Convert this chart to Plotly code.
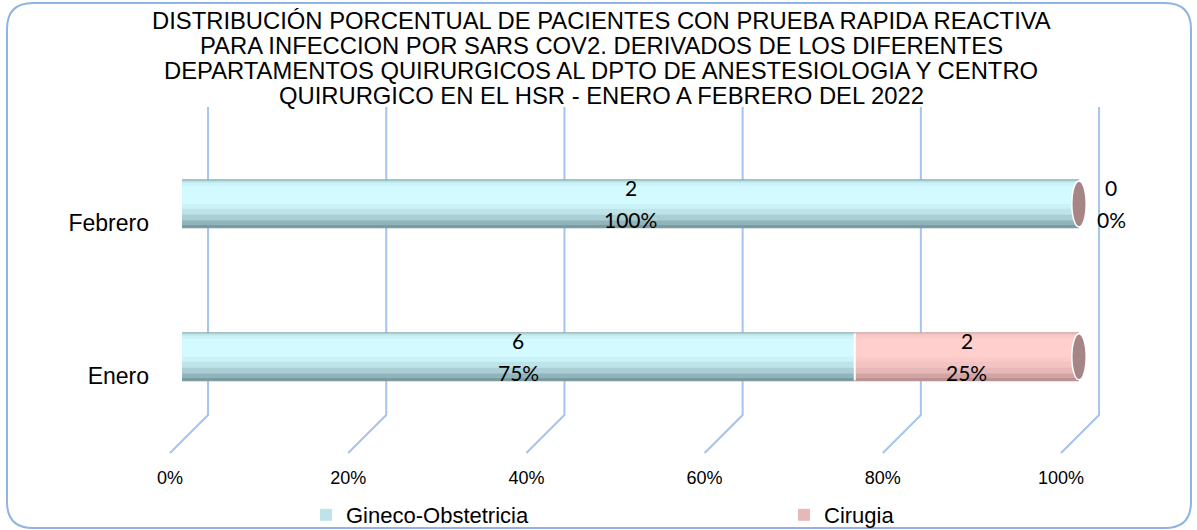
import plotly.graph_objects as go

# ---------------- data ----------------
categories = ["Enero", "Febrero"]
series_names = ["Gineco-Obstetricia", "Cirugia"]
counts_gineco = [6, 2]
counts_cirugia = [2, 0]
pct_gineco = [75, 100]
pct_cirugia = [25, 0]
x_ticks = [0, 20, 40, 60, 80, 100]
x_tick_labels = ["0%", "20%", "40%", "60%", "80%", "100%"]
title_lines = [
    "DISTRIBUCIÓN PORCENTUAL DE PACIENTES CON PRUEBA RAPIDA REACTIVA",
    "PARA INFECCION POR SARS COV2. DERIVADOS DE LOS DIFERENTES",
    "DEPARTAMENTOS QUIRURGICOS AL DPTO DE ANESTESIOLOGIA Y CENTRO",
    "QUIRURGICO EN EL HSR - ENERO A FEBRERO DEL 2022",
]

series_counts = [counts_gineco, counts_cirugia]
series_pct = [pct_gineco, pct_cirugia]

# ---------------- style ----------------
W, H = 1197, 530
ARIAL = "Liberation Sans, Arial, sans-serif"
LABEL_FONT = "Lato, Open Sans, sans-serif"
GRID_COLOR = "rgb(166,196,236)"
BAR_W = 0.32          # bar thickness in y units
BAR_SHIFT = 0.125     # bars sit a bit above their category label (3D look)
layers_frac = [(0.0, 1.0), (0.07, 1.0), (0.16, 0.985), (0.28, 0.965),
               (0.40, 0.935), (0.50, 0.87)]
shades = [
    ["#7A9BA0", "#90B4B9", "#A9CED3", "#BEE3E8", "#CAF3F8", "#D3FAFE"],
    ["#BD9191", "#D2A5A5", "#E6B8B7", "#F3C3C2", "#FBC9C8", "#FFCFCE"],
]
legend_layer = [3, 2]
cap_color = "#A58585"

y_pos = list(range(len(categories)))

fig = go.Figure()

# grid lines (perspective): back wall vertical + floor diagonal, on the front scale axis x
gx, gy = [], []
for v in x_ticks:
    gx += [v + 4.27, v + 4.27, v, None]
    gy += [1.758, -0.255, -0.503, None]
fig.add_trace(go.Scatter(x=gx, y=gy, mode="lines", xaxis="x", yaxis="y",
                         line=dict(color=GRID_COLOR, width=2),
                         hoverinfo="skip", showlegend=False))

# stacked bars (manual stacking with base) drawn as shaded cylinder layers on x2
bases = [0] * len(categories)
seg_bases = []
for s, name in enumerate(series_names):
    vals = series_pct[s]
    seg_bases.append(list(bases))
    for li, (f0, f1) in enumerate(layers_frac):
        fig.add_trace(go.Bar(
            x=vals, y=y_pos, base=list(bases), orientation="h",
            xaxis="x2", yaxis="y",
            width=(f1 - f0) * BAR_W,
            offset=BAR_SHIFT - BAR_W / 2 + f0 * BAR_W,
            marker=dict(color=shades[s][li], line=dict(width=0)),
            name=name, legendgroup=name,
            showlegend=(li == legend_layer[s]),
            hoverinfo="skip",
        ))
    bases = [b + v for b, v in zip(bases, vals)]

shapes = []
annotations = []

# cylinder caps at the end of each stack and separators between segments
for i in range(len(categories)):
    yc = y_pos[i] + BAR_SHIFT
    end = bases[i]
    shapes.append(dict(type="circle", xref="x2", yref="y",
                       x0=end - 0.8, x1=end + 0.8,
                       y0=yc - BAR_W * 0.47, y1=yc + BAR_W * 0.47,
                       fillcolor=cap_color, line=dict(color="white", width=1.5),
                       layer="above"))
    for s in range(1, len(series_names)):
        b = seg_bases[s][i]
        if series_pct[s][i] > 0 and series_pct[s - 1][i] > 0:
            shapes.append(dict(type="line", xref="x2", yref="y",
                               x0=b, x1=b, y0=yc - BAR_W * 0.48, y1=yc + BAR_W * 0.48,
                               line=dict(color="white", width=2), layer="above"))

# data labels (count and percentage)
for s in range(len(series_names)):
    for i in range(len(categories)):
        v = series_pct[s][i]
        b = seg_bases[s][i]
        xc = b + v / 2 if v > 0 else b + 3.6
        yc = y_pos[i] + BAR_SHIFT
        annotations.append(dict(xref="x2", yref="y", x=xc, y=yc, yshift=16,
                                text=str(series_counts[s][i]), showarrow=False,
                                font=dict(family=LABEL_FONT, size=21, color="black")))
        annotations.append(dict(xref="x2", yref="y", x=xc, y=yc, yshift=-16,
                                text=f"{v}%", showarrow=False,
                                font=dict(family=LABEL_FONT, size=21, color="black")))

# title lines
title_y = [21, 46, 71, 96]
for line, py in zip(title_lines, title_y):
    annotations.append(dict(xref="paper", yref="paper", x=601 / W, y=1 - py / H,
                            xanchor="center", yanchor="middle", text=line,
                            showarrow=False,
                            font=dict(family=ARIAL, size=23.8, color="black")))

# outer rounded border
def rr_path(x0, y0, x1, y1, r):
    fx = lambda p: p / W
    fy = lambda p: 1 - p / H
    pts = [
        f"M {fx(x0 + r)},{fy(y0)}",
        f"L {fx(x1 - r)},{fy(y0)}",
        f"Q {fx(x1)},{fy(y0)} {fx(x1)},{fy(y0 + r)}",
        f"L {fx(x1)},{fy(y1 - r)}",
        f"Q {fx(x1)},{fy(y1)} {fx(x1 - r)},{fy(y1)}",
        f"L {fx(x0 + r)},{fy(y1)}",
        f"Q {fx(x0)},{fy(y1)} {fx(x0)},{fy(y1 - r)}",
        f"L {fx(x0)},{fy(y0 + r)}",
        f"Q {fx(x0)},{fy(y0)} {fx(x0 + r)},{fy(y0)}",
        "Z",
    ]
    return " ".join(pts)

shapes.append(dict(type="path", xref="paper", yref="paper",
                   path=rr_path(7, 3, 1191, 528, 26),
                   line=dict(color="rgb(142,180,227)", width=2), layer="above"))

x0px, x1px = 158, 1130
fig.update_layout(
    template="none",
    width=W, height=H,
    margin=dict(l=0, r=0, t=0, b=0, autoexpand=False),
    paper_bgcolor="white", plot_bgcolor="white",
    barmode="overlay",
    font=dict(family=ARIAL, color="black"),
    xaxis=dict(domain=[x0px / W, x1px / W], range=[(x0px - 170) / 8.91, (x1px - 170) / 8.91],
               tickvals=x_ticks, ticktext=x_tick_labels, showgrid=False, zeroline=False,
               showline=False, ticks="", tickfont=dict(family=ARIAL, size=18),
               anchor="y", fixedrange=True),
    xaxis2=dict(overlaying="x", anchor="y", range=[(x0px - 182) / 8.97, (x1px - 182) / 8.97],
                visible=False, fixedrange=True),
    yaxis=dict(domain=[65 / H, 1], range=[-0.582, 2.458], tickvals=y_pos, ticktext=categories,
               showgrid=False, zeroline=False, showline=False, ticks="",
               ticklabelstandoff=8,
               tickfont=dict(family=ARIAL, size=23), fixedrange=True),
    legend=dict(orientation="h", x=306 / W, xanchor="left", y=1 - 515 / H, yanchor="middle",
                font=dict(family=ARIAL, size=22), entrywidth=433, traceorder="normal",
                bgcolor="rgba(0,0,0,0)", borderwidth=0),
    shapes=shapes,
    annotations=annotations,
    showlegend=True,
)

fig.write_html("out.html", config={"displayModeBar": False},
               post_script="document.body.style.margin='0';document.body.style.overflow='hidden';")
